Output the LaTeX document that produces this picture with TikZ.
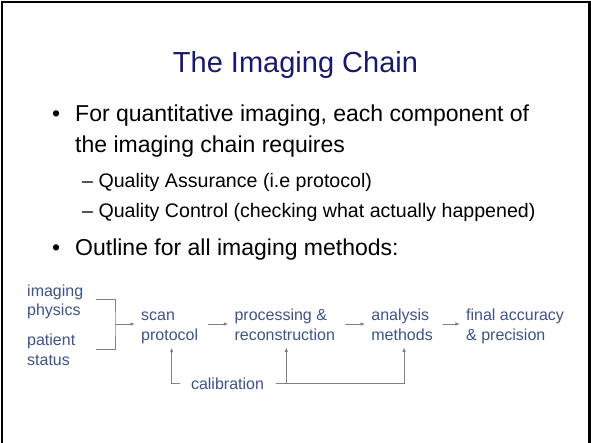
\documentclass[tikz,border=0pt]{standalone}
\usepackage{fontspec}
\setmainfont{Liberation Sans}
\usetikzlibrary{arrows.meta,positioning}
\definecolor{titleblue}{RGB}{25,25,110}
\definecolor{chainblue}{RGB}{62,82,140}
\definecolor{linkgray}{RGB}{128,128,128}
% strut so that every line of a stage has the same height
\newcommand\rowstrut{\rule[-3pt]{0pt}{19pt}}
\tikzset{
  slidetitle/.style = {font=\fontsize{29}{34}\selectfont, text=titleblue, inner sep=0pt, anchor=base},
  item/.style       = {font=\fontsize{23}{31}\selectfont, align=left, inner sep=0pt, anchor=base west},
  subitem/.style    = {font=\fontsize{19.6}{24}\selectfont, inner sep=0pt, anchor=base west},
  stage/.style      = {font=\fontsize{16}{19.5}\selectfont, text=chainblue, align=left,
                       inner xsep=6pt, inner ysep=4pt},
  link/.style       = {draw=linkgray, line width=1pt},
  flow/.style       = {link, -{Latex[length=4.5pt,width=3.6pt]}}
}

\begin{document}
\begin{tikzpicture}[x=1pt, y=-1pt, node distance=24pt]
  \useasboundingbox (0,0) rectangle (591,442);
  % slide frame, bottom edge cut off
  \draw[line width=2.5pt] (2,460) -- (2,2) -- (589.5,2) -- (589.5,460);

  % title and bullets
  \node[slidetitle] (title) at (295.5,72) {The Imaging Chain};

  \node[item] (mark1) at (52,121) {\textbullet};
  \node[item] (b1) at (75,152) {For quantitative imaging, each component of\\the imaging chain requires};
  \node[subitem] (qa) at (82,187) {– Quality Assurance (i.e protocol)};
  \node[subitem] (qc) at (82,217) {– Quality Control (checking what actually happened)};
  \node[item] (mark2) at (52,255) {\textbullet};
  \node[item] (b2) at (75,255) {Outline for all imaging methods:};

  % inputs on the left
  \node[stage, anchor=west] (imaging) at (21,299.5) {\rowstrut imaging\\\rowstrut physics};
  \node[stage, anchor=west] (patient) at (21,349) {\rowstrut patient\\\rowstrut status};
  \coordinate (fork) at (96,0);
  \coordinate (join) at (115,324);

  % the chain itself
  \node[stage, right=20pt of join] (scan) {\rowstrut scan\\\rowstrut protocol};
  \node[stage, right=of scan] (proc) {\rowstrut processing \&\\\rowstrut reconstruction};
  \node[stage, right=of proc] (analysis) {\rowstrut analysis\\\rowstrut methods};
  \node[stage, right=21pt of analysis] (final) {\rowstrut final accuracy\\\rowstrut \& precision};
  \node[stage, inner xsep=12pt] (calib) at (227.5,383.5) {calibration};

  \draw[link] (fork |- imaging.east) -| (join) |- (fork |- patient.east);
  \draw[flow] (join) -- (scan);
  \foreach \from/\to in {scan/proc, proc/analysis, analysis/final}
    \draw[flow, shorten <=4pt] (\from) -- (\to);

  % feedback from calibration
  \draw[flow] ([xshift=1pt]calib.west) -| ([xshift=2pt]scan.south);
  \draw[flow] (calib.east) -| ([xshift=1.5pt]proc.south);
  \draw[flow] (calib.east) -| ([xshift=2pt]analysis.south);
\end{tikzpicture}
\end{document}
